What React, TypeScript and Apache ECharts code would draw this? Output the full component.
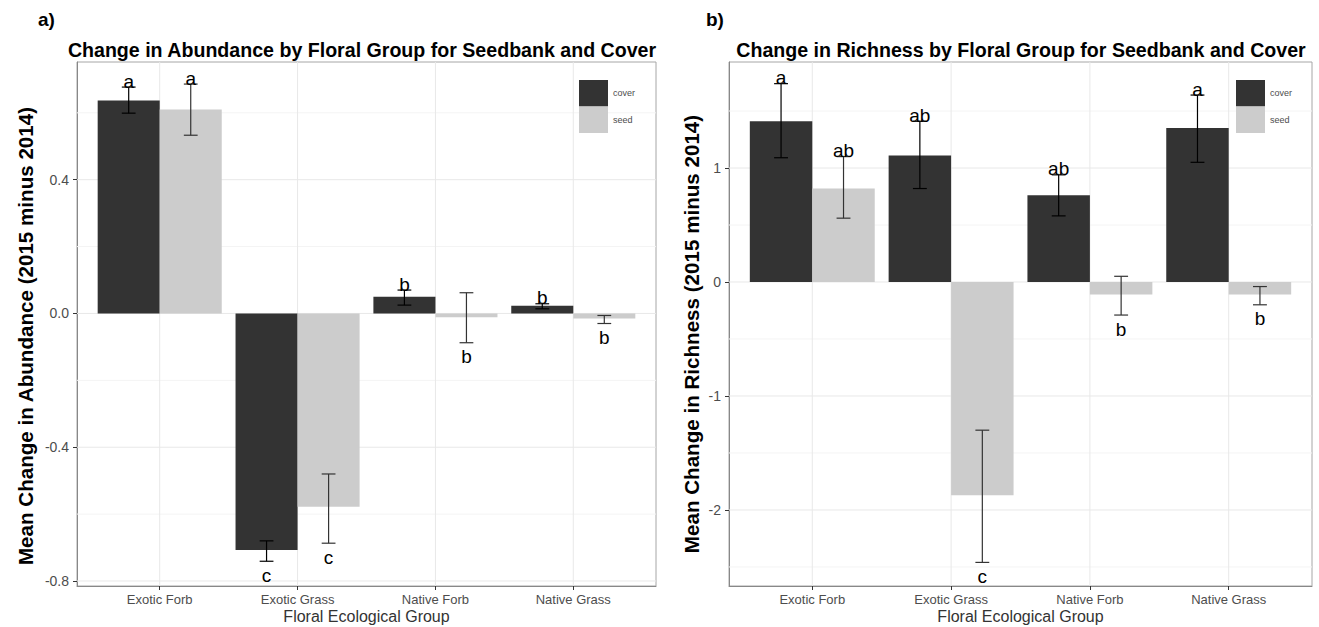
import React, { useEffect, useRef } from "react";
import * as echarts from "echarts";

const categories = ["Exotic Forb", "Exotic Grass", "Native Forb", "Native Grass"];

// Panel a) abundance
const abundCover = [0.637, -0.707, 0.05, 0.023];
const abundCoverLo = [0.599, -0.741, 0.025, 0.014];
const abundCoverHi = [0.677, -0.68, 0.07, 0.029];
const abundCoverLetters = ["a", "c", "b", "b"];
const abundSeed = [0.61, -0.578, -0.011, -0.015];
const abundSeedLo = [0.533, -0.687, -0.0875, -0.03];
const abundSeedHi = [0.686, -0.48, 0.062, -0.006];
const abundSeedLetters = ["a", "c", "b", "b"];
const abundTicks = [-0.8, -0.4, 0, 0.4];
const abundMinor = [-0.6, -0.2, 0.2, 0.6];

// Panel b) richness
const richCover = [1.41, 1.11, 0.76, 1.35];
const richCoverLo = [1.09, 0.82, 0.58, 1.05];
const richCoverHi = [1.74, 1.41, 0.94, 1.64];
const richCoverLetters = ["a", "ab", "ab", "a"];
const richSeed = [0.82, -1.87, -0.11, -0.11];
const richSeedLo = [0.56, -2.46, -0.29, -0.2];
const richSeedHi = [1.1, -1.3, 0.05, -0.04];
const richSeedLetters = ["ab", "c", "b", "b"];
const richTicks = [-2, -1, 0, 1];
const richMinor = [-2.5, -1.5, -0.5, 0.5, 1.5];

const xPositions = [1, 2, 3, 4];

const FONT = "'Liberation Sans', Arial, sans-serif";
const COVER = "#333333";
const SEED = "#cccccc";
const HALF = 0.45;

function barSeries(name: string, values: number[], offset: number, color: string, idx: number) {
  return {
    type: "custom",
    name,
    xAxisIndex: idx,
    yAxisIndex: idx,
    z: 2,
    itemStyle: { color },
    data: values.map((v, k) => [xPositions[k], v]),
    renderItem: (params: any, api: any) => {
      const x = api.value(0);
      const v = api.value(1);
      const a = api.coord([x + offset, v]);
      const b = api.coord([x + offset + HALF, 0]);
      return {
        type: "rect",
        shape: { x: a[0], y: Math.min(a[1], b[1]), width: b[0] - a[0], height: Math.abs(b[1] - a[1]) },
        style: { fill: color },
      };
    },
  };
}

function errSeries(values: number[], lo: number[], hi: number[], letters: string[], offset: number, idx: number, stroke: string) {
  return {
    type: "custom",
    xAxisIndex: idx,
    yAxisIndex: idx,
    z: 3,
    silent: true,
    clip: false,
    data: values.map((v, k) => [xPositions[k] + offset, lo[k], hi[k], v]),
    renderItem: (params: any, api: any) => {
      const x = api.value(0);
      const l = api.value(1);
      const h = api.value(2);
      const m = api.value(3);
      const pl = api.coord([x, l]);
      const ph = api.coord([x, h]);
      const c0 = api.coord([x - 0.05, l]);
      const c1 = api.coord([x + 0.05, l]);
      const hw = (c1[0] - c0[0]) / 2;
      const ls = { stroke, lineWidth: 1.2 };
      const above = m >= 0;
      const ty = above ? ph[1] - 6 : pl[1] + 14;
      return {
        type: "group",
        children: [
          { type: "line", shape: { x1: pl[0], y1: pl[1], x2: ph[0], y2: ph[1] }, style: ls },
          { type: "line", shape: { x1: pl[0] - hw, y1: pl[1], x2: pl[0] + hw, y2: pl[1] }, style: ls },
          { type: "line", shape: { x1: ph[0] - hw, y1: ph[1], x2: ph[0] + hw, y2: ph[1] }, style: ls },
          {
            type: "text",
            x: ph[0],
            y: ty,
            style: {
              text: letters[params.dataIndex],
              fontSize: 19,
              fontFamily: FONT,
              fill: "#000",
              align: "center",
              verticalAlign: "middle",
            },
          },
        ],
      };
    },
  };
}

function gridSeries(major: number[], minor: number[], idx: number) {
  const data: number[][] = [];
  major.forEach((v) => data.push([0, v]));
  minor.forEach((v) => data.push([1, v]));
  xPositions.forEach((v) => data.push([2, v]));
  return {
    type: "custom",
    xAxisIndex: idx,
    yAxisIndex: idx,
    z: 1,
    silent: true,
    data,
    renderItem: (params: any, api: any) => {
      const kind = api.value(0);
      const v = api.value(1);
      const cs = params.coordSys;
      if (kind === 2) {
        const p = api.coord([v, 0]);
        return { type: "line", shape: { x1: p[0], y1: cs.y, x2: p[0], y2: cs.y + cs.height }, style: { stroke: "#e8e8e8", lineWidth: 1 } };
      }
      const p = api.coord([1, v]);
      return {
        type: "line",
        shape: { x1: cs.x, y1: p[1], x2: cs.x + cs.width, y2: p[1] },
        style: { stroke: kind === 0 ? "#e8e8e8" : "#f4f4f4", lineWidth: 1 },
      };
    },
  };
}

function xAxis(idx: number) {
  return {
    type: "value",
    gridIndex: idx,
    min: 0.4,
    max: 4.6,
    name: "Floral Ecological Group",
    nameLocation: "middle",
    nameGap: 30,
    nameMoveOverlap: false,
    nameTextStyle: { fontFamily: FONT, fontSize: 16, color: "#333", verticalAlign: "middle" },
    splitLine: { show: false },
    axisLine: { show: true, onZero: false, lineStyle: { color: "#888", width: 1 } },
    axisTick: { show: true, customValues: xPositions, length: 4, lineStyle: { color: "#333" } },
    axisLabel: {
      customValues: xPositions,
      formatter: (v: number) => categories[Math.round(v) - 1],
      fontFamily: FONT,
      fontSize: 13,
      color: "#4d4d4d",
      margin: 7,
    },
  };
}

function yAxis(idx: number, min: number, max: number, ticks: number[], dec: number) {
  return {
    type: "value",
    gridIndex: idx,
    min,
    max,
    splitLine: { show: false },
    axisLine: { show: true, onZero: false, lineStyle: { color: "#888", width: 1 } },
    axisTick: { show: true, customValues: ticks, length: 4, lineStyle: { color: "#333" } },
    axisLabel: {
      customValues: ticks,
      formatter: (v: number) => v.toFixed(dec),
      fontFamily: FONT,
      fontSize: 14,
      color: "#4d4d4d",
      margin: 8,
    },
  };
}

function legend(left: number) {
  return {
    left,
    top: 80,
    orient: "vertical",
    padding: 0,
    itemWidth: 29,
    itemHeight: 26.5,
    itemGap: 0,
    icon: "rect",
    selectedMode: false,
    data: ["cover", "seed"],
    textStyle: { fontFamily: FONT, fontSize: 9, color: "#4d4d4d" },
  };
}

export default function App() {
  const ref = useRef<HTMLDivElement>(null);
  useEffect(() => {
    if (!ref.current) return;
    const chart = echarts.init(ref.current, null, { renderer: "svg" });
    chart.setOption({
      animation: false,
      backgroundColor: "#fff",
      grid: [
        { left: 77, right: 663, top: 62, bottom: 41, show: true, borderColor: "#a6a6a6", borderWidth: 1, backgroundColor: "#fff", outerBoundsMode: "none", containLabel: false },
        { left: 729, right: 7, top: 62, bottom: 41, show: true, borderColor: "#a6a6a6", borderWidth: 1, backgroundColor: "#fff", outerBoundsMode: "none", containLabel: false },
      ],
      xAxis: [xAxis(0), xAxis(1)],
      yAxis: [yAxis(0, -0.815, 0.752, abundTicks, 1), yAxis(1, -2.667, 1.93, richTicks, 0)],
      legend: [legend(579), legend(1236)],
      graphic: [
        { type: "text", x: 38, y: 10, style: { text: "a)", font: `bold 19px ${FONT}`, fill: "#000" } },
        { type: "text", x: 706, y: 10, style: { text: "b)", font: `bold 19px ${FONT}`, fill: "#000" } },
        {
          type: "text",
          x: 362,
          y: 50,
          style: { text: "Change in Abundance by Floral Group for Seedbank and Cover", font: `bold 19.6px ${FONT}`, fill: "#000", align: "center", verticalAlign: "middle" },
        },
        {
          type: "text",
          x: 1021,
          y: 50,
          style: { text: "Change in Richness by Floral Group for Seedbank and Cover", font: `bold 19.6px ${FONT}`, fill: "#000", align: "center", verticalAlign: "middle" },
        },
        {
          type: "text",
          x: 25,
          y: 336,
          rotation: Math.PI / 2,
          style: { text: "Mean Change in Abundance (2015 minus 2014)", font: `bold 20.6px ${FONT}`, fill: "#000", align: "center", verticalAlign: "middle" },
        },
        {
          type: "text",
          x: 691,
          y: 334,
          rotation: Math.PI / 2,
          style: { text: "Mean Change in Richness (2015 minus 2014)", font: `bold 20.6px ${FONT}`, fill: "#000", align: "center", verticalAlign: "middle" },
        },
      ],
      series: [
        gridSeries(abundTicks, abundMinor, 0),
        gridSeries(richTicks, richMinor, 1),
        barSeries("cover", abundCover, -HALF, COVER, 0),
        barSeries("seed", abundSeed, 0, SEED, 0),
        barSeries("cover", richCover, -HALF, COVER, 1),
        barSeries("seed", richSeed, 0, SEED, 1),
        errSeries(abundCover, abundCoverLo, abundCoverHi, abundCoverLetters, -HALF / 2, 0, "#000"),
        errSeries(abundSeed, abundSeedLo, abundSeedHi, abundSeedLetters, HALF / 2, 0, "#333"),
        errSeries(richCover, richCoverLo, richCoverHi, richCoverLetters, -HALF / 2, 1, "#000"),
        errSeries(richSeed, richSeedLo, richSeedHi, richSeedLetters, HALF / 2, 1, "#333"),
      ],
    });
    return () => chart.dispose();
  }, []);
  return <div ref={ref} style={{ position: "fixed", left: 0, top: 0, width: 1319, height: 627 }} />;
}
